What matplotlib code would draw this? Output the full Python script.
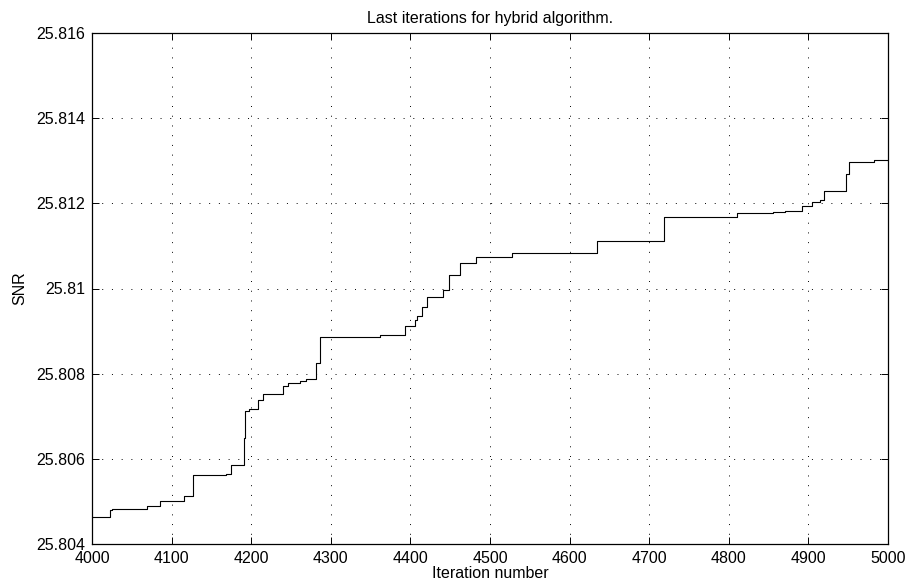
import matplotlib
matplotlib.use("Agg")
import matplotlib.pyplot as plt
from matplotlib.ticker import FixedLocator, FixedFormatter

# Best SNR found so far at each improving iteration (step-wise, held until next change)
iterations = [4000, 4022, 4025, 4069, 4086, 4115, 4127, 4168, 4175, 4191, 4192,
              4197, 4209, 4215, 4240, 4246, 4261, 4269, 4282, 4286, 4362, 4393,
              4406, 4408, 4414, 4421, 4441, 4449, 4462, 4483, 4528, 4634, 4719,
              4810, 4856, 4871, 4892, 4905, 4914, 4919, 4947, 4951, 4982, 5000]
snr = [25.80463, 25.80480, 25.80483, 25.80490, 25.80502, 25.80513, 25.80561,
       25.80564, 25.80585, 25.80650, 25.80712, 25.80718, 25.80738, 25.80752,
       25.80772, 25.80778, 25.80782, 25.80787, 25.80825, 25.80886, 25.80891,
       25.80913, 25.80925, 25.80936, 25.80956, 25.80981, 25.80997, 25.81032,
       25.81060, 25.81074, 25.81083, 25.81112, 25.81169, 25.81177, 25.81180,
       25.81183, 25.81193, 25.81203, 25.81207, 25.81230, 25.81269, 25.81298,
       25.81302, 25.81302]

x_ticks = [4000, 4100, 4200, 4300, 4400, 4500, 4600, 4700, 4800, 4900, 5000]
y_ticks = [25.804, 25.806, 25.808, 25.810, 25.812, 25.814, 25.816]
y_tick_labels = ["25.804", "25.806", "25.808", "25.81", "25.812", "25.814", "25.816"]

plt.rcParams["font.family"] = ["Liberation Sans", "DejaVu Sans"]
fs = 11.5

fig = plt.figure(figsize=(9.1, 5.81), dpi=100)
ax = fig.add_axes([92 / 910, 1 - 544 / 581, (888 - 92) / 910, (544 - 33) / 581])

ax.step(iterations, snr, where="post", color="black", linewidth=0.8)

ax.set_xlim(4000, 5000)
ax.set_ylim(25.804, 25.816)
ax.xaxis.set_major_locator(FixedLocator(x_ticks))
ax.set_xticklabels([str(t) for t in x_ticks])
ax.yaxis.set_major_locator(FixedLocator(y_ticks))
ax.yaxis.set_major_formatter(FixedFormatter(y_tick_labels))

ax.grid(True, color="black", linestyle=(0, (1, 9)), linewidth=0.7)
ax.set_axisbelow(True)

ax.tick_params(direction="in", length=5, width=0.7, top=True, right=True,
               labelsize=fs, colors="black")
ax.tick_params(axis="x", pad=5)
ax.tick_params(axis="y", pad=5)
for sp in ax.spines.values():
    sp.set_linewidth(0.9)
    sp.set_color("black")

ax.set_title("Last iterations for hybrid algorithm.", fontsize=fs, pad=7)
ax.set_xlabel("Iteration number", fontsize=fs, labelpad=0)
ax.set_ylabel("SNR", fontsize=fs, labelpad=6)

fig.savefig("out.png", dpi=100)
